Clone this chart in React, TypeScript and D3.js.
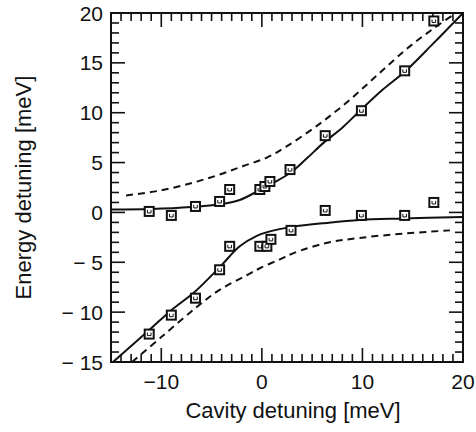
import React, { useRef, useEffect } from 'react';
import * as d3 from 'd3';

// measured points (squares)
const upperPtsX = [-11.2, -9.0, -6.6, -4.2, -3.2, -0.2, 0.3, 0.8, 2.8, 6.3, 9.9, 14.2, 17.1];
const upperPtsY = [0.1, -0.3, 0.6, 1.1, 2.3, 2.3, 2.6, 3.1, 4.3, 7.7, 10.2, 14.2, 19.2];
const lowerPtsX = [-11.2, -9.0, -6.6, -4.2, -3.2, -0.2, 0.5, 0.9, 2.9, 6.3, 9.9, 14.2, 17.1];
const lowerPtsY = [-12.2, -10.3, -8.6, -5.75, -3.4, -3.4, -3.4, -2.7, -1.8, 0.2, -0.3, -0.3, 1.0];

// fitted curves (solid)
const upperFitX = [-15, -11, -7, -4, -2.2, -0.2, 1.1, 2.8, 4.5, 6.1, 8, 9.5, 12, 14.2, 17, 20];
const upperFitY = [0.3, 0.35, 0.55, 0.85, 1.25, 2.25, 2.95, 3.95, 5.45, 6.95, 8.5, 9.95, 12.3, 14.1, 16.9, 20];
const lowerFitX = [-14.8, -11.2, -9, -6.6, -4.2, -2.2, -0.5, 1, 3, 6.4, 9.7, 14, 20];
const lowerFitY = [-15, -11.8, -9.8, -7.9, -5.5, -3.4, -2.35, -1.85, -1.45, -1.05, -0.75, -0.6, -0.45];

// dashed curves
const upperDashX = [-13.5, -10.1, -6.8, -4.2, -1.85, 0.5, 2.5, 5.5, 8.4, 11.4, 14.4, 17, 19.3];
const upperDashY = [1.7, 2.2, 3.0, 3.8, 4.65, 5.5, 6.65, 8.7, 11.0, 13.7, 16.4, 18.4, 20];
const lowerDashX = [-12.9, -10, -6.6, -4.2, -1.5, -0.2, 1.8, 3.1, 6.4, 9.7, 14, 18.7];
const lowerDashY = [-15, -12.5, -9.6, -7.76, -6.3, -5.6, -4.7, -4.1, -3.06, -2.56, -2.13, -1.8];

const xTicks = [-10, 0, 10, 20];
const yTicks = [-15, -10, -5, 0, 5, 10, 15, 20];

const zip = (xs: number[], ys: number[]) => xs.map((x, i) => [x, ys[i]] as [number, number]);

const App = () => {
  const ref = useRef<SVGSVGElement>(null);

  useEffect(() => {
    const svg = d3.select(ref.current);
    svg.selectAll('*').remove();

    const margin = { top: 13, right: 13, bottom: 70, left: 111 };
    const width = 476, height = 432;
    const innerW = width - margin.left - margin.right;
    const innerH = height - margin.top - margin.bottom;

    const x = d3.scaleLinear().domain([-15, 20]).range([0, innerW]);
    const y = d3.scaleLinear().domain([-15, 20]).range([innerH, 0]);

    const g = svg.append('g').attr('transform', `translate(${margin.left},${margin.top})`);

    const minorX = d3.range(-15, 21, 1);
    const minorY = d3.range(-15, 21, 1);
    const major = 14, minor = 8;

    // ticks on all four sides
    const tickG = g.append('g').attr('stroke', '#111').attr('stroke-width', 1.6);
    minorX.forEach(v => {
      const len = v % 10 === 0 ? major : minor;
      tickG.append('line').attr('x1', x(v)).attr('x2', x(v)).attr('y1', innerH).attr('y2', innerH - len);
      tickG.append('line').attr('x1', x(v)).attr('x2', x(v)).attr('y1', 0).attr('y2', len);
    });
    minorY.forEach(v => {
      const len = v % 5 === 0 ? major : minor;
      tickG.append('line').attr('x1', 0).attr('x2', len).attr('y1', y(v)).attr('y2', y(v));
      tickG.append('line').attr('x1', innerW).attr('x2', innerW - len).attr('y1', y(v)).attr('y2', y(v));
    });

    g.append('rect')
      .attr('width', innerW).attr('height', innerH)
      .attr('fill', 'none').attr('stroke', '#111').attr('stroke-width', 2);

    const font = 'Liberation Sans, Arial, Helvetica, sans-serif';
    xTicks.forEach(v => {
      g.append('text').attr('x', x(v)).attr('y', innerH + 27)
        .attr('text-anchor', 'middle').attr('font-family', font).attr('font-size', 21)
        .attr('fill', '#111').text(v < 0 ? `\u2212${Math.abs(v)}` : `${v}`);
    });
    yTicks.forEach(v => {
      g.append('text').attr('x', -8).attr('y', y(v)).attr('dy', '0.36em')
        .attr('text-anchor', 'end').attr('font-family', font).attr('font-size', 21)
        .attr('fill', '#111').text(v < 0 ? `\u2212 ${Math.abs(v)}` : `${v}`);
    });

    g.append('text').attr('x', innerW / 2 + 6).attr('y', innerH + 56)
      .attr('text-anchor', 'middle').attr('font-family', font).attr('font-size', 22)
      .attr('fill', '#111').text('Cavity detuning [meV]');
    g.append('text')
      .attr('transform', `translate(${-80},${innerH / 2}) rotate(-90)`)
      .attr('text-anchor', 'middle').attr('font-family', font).attr('font-size', 22)
      .attr('fill', '#111').text('Energy detuning [meV]');

    const line = d3.line<[number, number]>()
      .x(d => x(d[0])).y(d => y(d[1]))
      .curve(d3.curveCatmullRom.alpha(0.5));

    const clip = g.append('clipPath').attr('id', 'plotclip');
    clip.append('rect').attr('width', innerW).attr('height', innerH);
    const curves = g.append('g').attr('clip-path', 'url(#plotclip)');

    [[upperFitX, upperFitY], [lowerFitX, lowerFitY]].forEach(([xs, ys]) => {
      curves.append('path').attr('d', line(zip(xs, ys)))
        .attr('fill', 'none').attr('stroke', '#111').attr('stroke-width', 2);
    });
    [[upperDashX, upperDashY], [lowerDashX, lowerDashY]].forEach(([xs, ys]) => {
      curves.append('path').attr('d', line(zip(xs, ys)))
        .attr('fill', 'none').attr('stroke', '#111').attr('stroke-width', 2)
        .attr('stroke-dasharray', '7,5');
    });

    const pts = [...zip(upperPtsX, upperPtsY), ...zip(lowerPtsX, lowerPtsY)];
    const sq = g.append('g');
    pts.forEach(([px, py]) => {
      const m = sq.append('g').attr('transform', `translate(${x(px)},${y(py)})`);
      m.append('rect').attr('x', -4.5).attr('y', -4.5).attr('width', 9).attr('height', 9)
        .attr('fill', 'white').attr('stroke', '#111').attr('stroke-width', 2);
      m.append('path').attr('d', 'M-1.8,-1.5 V1.5 H1.8 V-1.5')
        .attr('fill', 'none').attr('stroke', '#111').attr('stroke-width', 1);
    });
  }, []);

  return (
    <svg ref={ref} width={476} height={432} style={{ position: 'absolute', left: 0, top: 0, background: 'white' }} />
  );
};

export default App;
